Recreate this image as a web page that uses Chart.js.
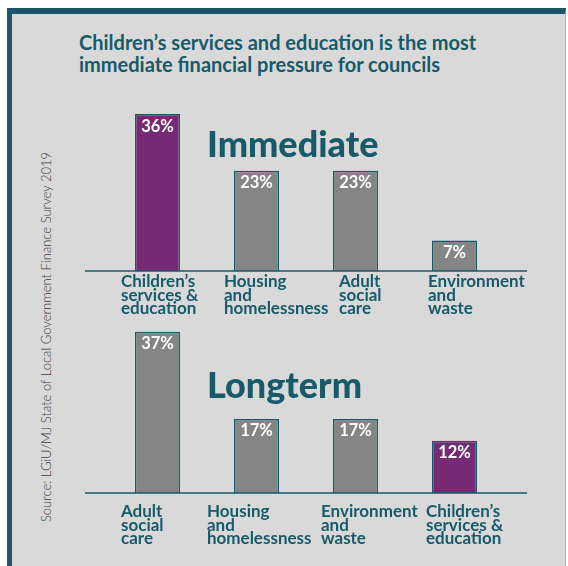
<!DOCTYPE html>
<html>
<head>
<meta charset="utf-8">
<script src="https://cdn.jsdelivr.net/npm/chart.js@4.4.1/dist/chart.umd.min.js"></script>
<style>
  html, body { margin: 0; padding: 0; background: #fff; }
  body { width: 568px; height: 566px; position: relative; overflow: hidden; font-family: Lato, "Noto Sans", sans-serif; }
  .panel {
    position: absolute; left: 7px; top: 8px; width: 559px; height: 620px;
    box-sizing: border-box; background: #d9d9d9;
    border-left: 5px solid #1b5666; border-top: 6px solid #1b5666; border-right: 1px solid #b3b3b3;
  }
  .title {
    position: absolute; left: 79px; top: 31px; margin: 0;
    color: #175a69; font-weight: 700; font-size: 20px; line-height: 22px; white-space: nowrap;
  }
  .tag {
    position: absolute; color: #175a69; font-weight: 900; font-size: 36px; line-height: 36px; white-space: nowrap;
  }
  .source {
    position: absolute; left: 46px; top: 337px; white-space: nowrap;
    transform: translate(-50%, -50%) rotate(-90deg);
    color: #3c3c3c; font-size: 13px; font-weight: 300;
  }
  canvas { position: absolute; left: 0; }
  #immediateChart { top: 88px; }
  #longtermChart { top: 318px; }
</style>
</head>
<body>
<div class="panel"></div>
<h1 class="title">Children’s services and education is the most<br>immediate financial pressure for councils</h1>
<div class="source">Source: LGiU/MJ State of Local Government Finance Survey 2019</div>
<canvas id="immediateChart" width="568" height="230"></canvas>
<canvas id="longtermChart" width="568" height="248"></canvas>
<div class="tag" style="left:207px; top:125px;">Immediate</div>
<div class="tag" style="left:207px; top:366px;">Longterm</div>

<script>
/* ---------- data ---------- */
const immediateCategories = [
  ["Children’s", "services &", "education"],
  ["Housing", "and", "homelessness"],
  ["Adult", "social", "care"],
  ["Environment", "and", "waste"],
];
const immediateValues = [36, 23, 23, 7];

const longtermCategories = [
  ["Adult", "social", "care"],
  ["Housing", "and", "homelessness"],
  ["Environment", "and", "waste"],
  ["Children’s", "services &", "education"],
];
const longtermValues = [37, 17, 17, 12];

const highlightCategory = "Children’s";

/* ---------- style ---------- */
const TEAL = "#175a69";
const GREY_BAR = "#858585";
const PURPLE_BAR = "#772a74";
const PX_PER_PCT = 4.36;
// category label left edge, relative to the bar's left edge (the original is hand-placed)
const immediateLabelNudge = [-14, -10, 6, -4];
const longtermLabelNudge = [-14, -27, -12, -6];

const barColors = (cats) => cats.map((c) => (c[0] === highlightCategory ? PURPLE_BAR : GREY_BAR));

// baseline, value labels inside bars and left-aligned category labels
const barDecor = {
  id: "barDecor",
  afterDatasetsDraw(chart, args, opts) {
    const { ctx, chartArea } = chart;
    const meta = chart.getDatasetMeta(0);
    const values = chart.data.datasets[0].data;
    ctx.save();

    ctx.strokeStyle = TEAL;
    ctx.lineWidth = 1.5;
    ctx.beginPath();
    ctx.moveTo(chartArea.left - 23, chartArea.bottom);
    ctx.lineTo(chartArea.right + 23, chartArea.bottom);
    ctx.stroke();

    ctx.fillStyle = "#ffffff";
    ctx.font = "bold 16.5px Lato";
    ctx.textAlign = "center";
    ctx.textBaseline = "top";
    meta.data.forEach((bar, i) => ctx.fillText(values[i] + "%", bar.x, bar.y + 4));

    ctx.fillStyle = TEAL;
    ctx.font = "bold 17px Lato";
    ctx.textAlign = "left";
    ctx.textBaseline = "alphabetic";
    meta.data.forEach((bar, i) => {
      const left = bar.x - bar.width / 2 + opts.nudge[i];
      chart.data.labels[i].forEach((line, j) =>
        ctx.fillText(line, left, chartArea.bottom + opts.labelOffset + j * 13.5)
      );
    });
    ctx.restore();
  },
};

function makeChart(id, cats, values, yMax, pad, labelOffset, nudge) {
  return new Chart(document.getElementById(id), {
    type: "bar",
    data: {
      labels: cats,
      datasets: [{
        data: values,
        backgroundColor: barColors(cats),
        borderColor: TEAL,
        borderWidth: 1.5,
        barPercentage: 0.455,
        categoryPercentage: 1,
      }],
    },
    options: {
      responsive: false,
      animation: false,
      layout: { padding: pad },
      plugins: {
        legend: { display: false },
        tooltip: { enabled: false },
        barDecor: { labelOffset, nudge },
      },
      scales: {
        x: { display: false },
        y: { display: false, min: 0, max: yMax },
      },
    },
    plugins: [barDecor],
  });
}

// chart areas: x 108..504, baseline y 271 / 493 (page coords)
makeChart("immediateChart", immediateCategories, immediateValues, 40,
  { left: 108, right: 64, top: 230 - 47 - 40 * PX_PER_PCT, bottom: 47 }, 16, immediateLabelNudge);
makeChart("longtermChart", longtermCategories, longtermValues, 38,
  { left: 108, right: 64, top: 248 - 73 - 38 * PX_PER_PCT, bottom: 73 }, 24, longtermLabelNudge);
</script>
</body>
</html>
